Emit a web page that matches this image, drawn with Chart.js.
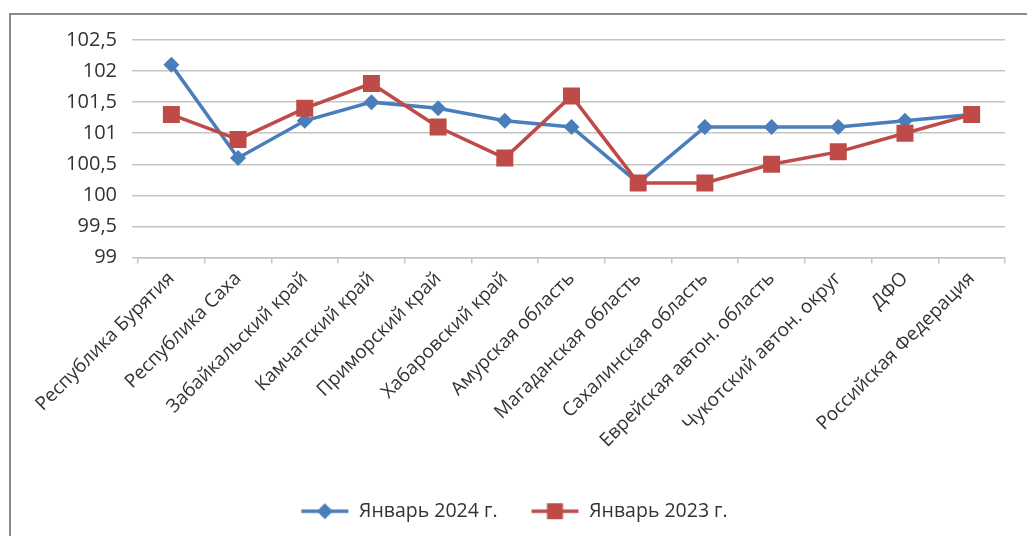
<!DOCTYPE html>
<html>
<head>
<meta charset="utf-8">
<script src="https://cdn.jsdelivr.net/npm/chart.js@4"></script>
<style>
  html, body { margin: 0; padding: 0; background: #fff; }
  #frame {
    position: absolute; left: 9px; top: 13px; width: 1040px; height: 560px;
    border-top: 2px solid #8a8a8a; border-left: 2px solid #8a8a8a;
  }
  #chart { position: absolute; left: 0; top: 0; }
</style>
</head>
<body>
<div id="frame"></div>
<canvas id="chart" width="1027" height="536"></canvas>
<script>
const regions = [
  'Республика Бурятия', 'Республика Саха', 'Забайкальский край', 'Камчатский край',
  'Приморский край', 'Хабаровский край', 'Амурская область', 'Магаданская область',
  'Сахалинская область', 'Еврейская автон. область', 'Чукотский автон. округ', 'ДФО',
  'Российская Федерация'
];
const jan2024 = [102.1, 100.6, 101.2, 101.5, 101.4, 101.2, 101.1, 100.2, 101.1, 101.1, 101.1, 101.2, 101.3];
const jan2023 = [101.3, 100.9, 101.4, 101.8, 101.1, 100.6, 101.6, 100.2, 100.2, 100.5, 100.7, 101.0, 101.3];
const yTicks = [99, 99.5, 100, 100.5, 101, 101.5, 102, 102.5];

const blue = '#4a7ebb';
const red = '#be4b48';
const textColor = '#333333';
const gridColor = '#c4c4c4';
const fontFamily = '"Open Sans", sans-serif';

// little line + marker picture for the legend
function legendIcon(color, diamond) {
  const c = document.createElement('canvas');
  c.width = 72; c.height = 24;
  const g = c.getContext('2d');
  g.strokeStyle = color;
  g.lineWidth = 3.5;
  g.beginPath();
  g.moveTo(24, 12);
  g.lineTo(71, 12);
  g.stroke();
  g.fillStyle = color;
  g.beginPath();
  if (diamond) {
    g.moveTo(47.5, 4); g.lineTo(55.5, 12); g.lineTo(47.5, 20); g.lineTo(39.5, 12);
    g.closePath();
  } else {
    g.rect(39.5, 4, 16, 16);
  }
  g.fill();
  return c;
}

const ctx = document.getElementById('chart').getContext('2d');
new Chart(ctx, {
  type: 'line',
  data: {
    labels: regions,
    datasets: [
      {
        label: 'Январь 2024 г.',
        data: jan2024,
        borderColor: blue,
        backgroundColor: blue,
        borderWidth: 3.5,
        pointStyle: 'rectRot',
        pointRadius: 8,
        pointHoverRadius: 8,
        pointBorderWidth: 0,
        tension: 0,
        order: 1
      },
      {
        label: 'Январь 2023 г.',
        data: jan2023,
        borderColor: red,
        backgroundColor: red,
        borderWidth: 3.5,
        pointStyle: 'rect',
        pointRadius: 12,
        pointHoverRadius: 12,
        pointBorderWidth: 0,
        tension: 0,
        order: 0
      }
    ]
  },
  options: {
    responsive: false,
    animation: false,
    devicePixelRatio: 1,
    layout: { padding: { left: 0, right: 22, top: 40, bottom: 5 } },
    plugins: {
      tooltip: { enabled: false },
      legend: {
        position: 'bottom',
        labels: {
          usePointStyle: true,
          pointStyleWidth: 72,
          padding: 10,
          color: textColor,
          font: { family: fontFamily, size: 19.5 },
          generateLabels: function (chart) {
            return [
              { text: 'Январь 2024 г.', pointStyle: legendIcon(blue, true), datasetIndex: 0, fontColor: textColor, lineWidth: 0 },
              { text: 'Январь 2023 г.', pointStyle: legendIcon(red, false), datasetIndex: 1, fontColor: textColor, lineWidth: 0 }
            ];
          }
        }
      }
    },
    scales: {
      x: {
        offset: true,
        grid: { offset: true, drawOnChartArea: false, drawTicks: true, tickLength: 6, color: gridColor, lineWidth: 1.5 },
        border: { display: true, color: gridColor, width: 1.5 },
        ticks: {
          autoSkip: false, minRotation: 45, maxRotation: 45, padding: 4,
          color: textColor, font: { family: fontFamily, size: 19 }
        },
        afterFit: function (scale) { scale.height = 234; }
      },
      y: {
        min: 99,
        max: 102.5,
        afterBuildTicks: function (scale) { scale.ticks = yTicks.map(v => ({ value: v })); },
        grid: { drawTicks: true, tickLength: 6, color: gridColor, lineWidth: 1.5 },
        border: { display: false },
        ticks: {
          padding: 15,
          color: textColor,
          font: { family: fontFamily, size: 20 },
          callback: function (value) { return String(value).replace('.', ','); }
        },
        afterFit: function (scale) { scale.width = 138; }
      }
    }
  }
});
</script>
</body>
</html>
